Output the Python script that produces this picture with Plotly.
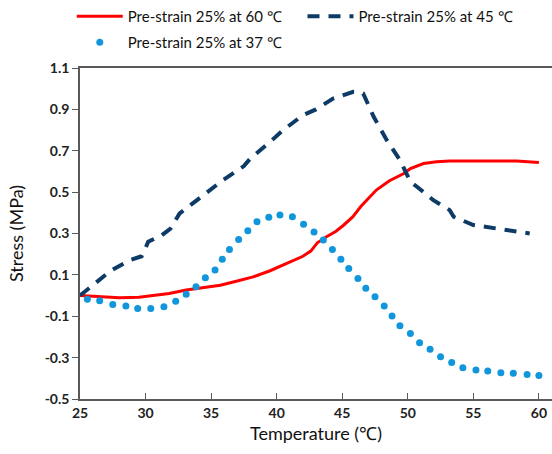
import plotly.graph_objects as go

# 60 °C series (solid red)
t60 = [25.0, 26.5, 28.0, 29.5, 30.6, 31.8, 33.1, 34.4, 35.7, 37.0, 38.2, 39.5, 40.8, 42.0, 42.6, 43.1,
       43.8, 44.5, 45.1, 45.8, 46.4, 47.0, 47.6, 48.6, 49.7, 50.2, 51.2, 52.2, 53.2, 55.7, 58.3, 60.0]
s60 = [0.0, -0.005, -0.01, -0.008, 0.0, 0.01, 0.027, 0.038, 0.05, 0.07, 0.09, 0.12, 0.155, 0.19, 0.215, 0.255,
       0.284, 0.31, 0.34, 0.38, 0.429, 0.47, 0.51, 0.555, 0.59, 0.614, 0.638, 0.647, 0.651, 0.651, 0.651, 0.643]

# 45 °C series (dashed navy)
t45 = [25.0, 25.8, 27.3, 28.8, 29.7, 30.0, 30.2, 31.2, 31.9, 32.6, 34.4, 35.9, 37.5, 38.0, 39.5, 40.5,
       42.0, 43.0, 44.3, 45.3, 45.85, 46.3, 46.6, 47.4, 48.4, 49.4, 50.2, 50.7, 51.95, 53.2, 53.5,
       55.0, 57.0, 59.3]
s45 = [0.0, 0.043, 0.118, 0.171, 0.19, 0.23, 0.26, 0.29, 0.324, 0.397, 0.486, 0.558, 0.626, 0.663, 0.743, 0.8,
       0.872, 0.9, 0.952, 0.975, 0.985, 0.985, 0.977, 0.864, 0.751, 0.655, 0.55, 0.526, 0.461, 0.413, 0.381,
       0.341, 0.32, 0.3]

# 37 °C series (dotted light blue)
t37 = [25.56, 26.5, 27.5, 28.5, 29.4, 30.4, 31.4, 32.3, 33.1, 33.85, 34.56, 35.3, 35.85, 36.4, 37.1, 37.8,
       38.5, 39.4, 40.25, 41.2, 42.05, 42.85, 43.56, 44.25, 44.9, 45.5, 46.2, 46.8, 47.5, 48.2, 48.8, 49.4,
       50.2, 50.9, 51.7, 52.5, 53.35, 54.2, 55.2, 56.1, 57.1, 58.05, 59.1, 60.0]
s37 = [-0.018, -0.025, -0.043, -0.051, -0.062, -0.062, -0.054, -0.028, 0.006, 0.043, 0.086, 0.123, 0.175, 0.223,
       0.271, 0.313, 0.357, 0.378, 0.39, 0.381, 0.345, 0.307, 0.268, 0.223, 0.176, 0.131, 0.083, 0.035, -0.006,
       -0.051, -0.099, -0.146, -0.183, -0.228, -0.26, -0.296, -0.323, -0.349, -0.36, -0.365, -0.373, -0.376,
       -0.381, -0.386]

x_ticks = [25, 30, 35, 40, 45, 50, 55, 60]
y_ticks = [-0.5, -0.3, -0.1, 0.1, 0.3, 0.5, 0.7, 0.9, 1.1]

fig = go.Figure()
fig.add_trace(go.Scatter(x=t60, y=s60, mode="lines", name="Pre-strain 25% at 60 ℃",
                         line=dict(color="#FF0000", width=3), legend="legend"))
fig.add_trace(go.Scatter(x=t45, y=s45, mode="lines", name="Pre-strain 25% at 45 ℃",
                         line=dict(color="#0D3B66", width=4, dash="12px,9px"), legend="legend2"))
fig.add_trace(go.Scatter(x=t37, y=s37, mode="markers", name="Pre-strain 25% at 37 ℃",
                         marker=dict(color="#1296DB", size=7), legend="legend3"))

tickfont = dict(family="Lato, Open Sans, sans-serif", size=14, color="#222222", weight="bold")
legfont = dict(family="Lato, Open Sans, sans-serif", size=15, color="#111111")


def leg(x, y):
    return dict(orientation="h", xref="container", x=x, xanchor="left",
                yref="container", y=y, yanchor="top",
                font=legfont, bgcolor="rgba(0,0,0,0)", itemwidth=46)


fig.update_layout(
    width=552, height=454,
    margin=dict(l=80, r=0, t=68, b=55),
    plot_bgcolor="white", paper_bgcolor="white",
    font=dict(family="Lato, Open Sans, sans-serif", size=15, color="#111111"),
    showlegend=True,
    legend=leg(0.13, 1.0),
    legend2=leg(0.548, 1.0),
    legend3=leg(0.13, 0.943),
    xaxis=dict(range=[25, 61.0], tickvals=x_ticks, ticktext=[str(v) for v in x_ticks],
               showgrid=False, zeroline=False, showline=True, linecolor="#595959", linewidth=1.5,
               mirror=True, ticks="inside", ticklen=6, tickcolor="#595959",
               tickfont=tickfont,
               title=dict(text="Temperature (℃)", font=dict(size=18, color="#111111"), standoff=8)),
    yaxis=dict(range=[-0.5, 1.1], tickvals=y_ticks, ticktext=[f"{v:.1f}" for v in y_ticks],
               showgrid=False, zeroline=False, showline=True, linecolor="#595959", linewidth=1.5,
               ticks="outside", ticklen=6, tickcolor="#595959",
               tickfont=tickfont,
               title=dict(text="Stress (MPa)", font=dict(size=18, color="#111111"), standoff=16)),
)
fig.write_html("out.html")
